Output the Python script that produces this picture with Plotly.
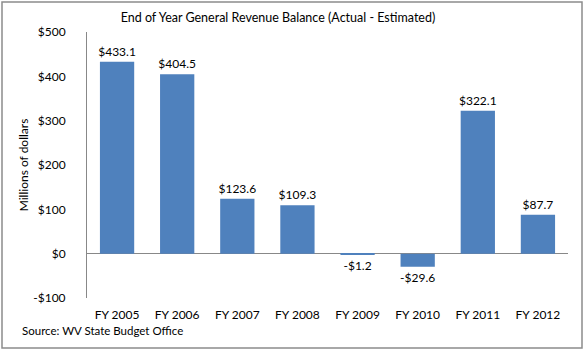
import plotly.graph_objects as go

categories = ["FY 2005", "FY 2006", "FY 2007", "FY 2008", "FY 2009", "FY 2010", "FY 2011", "FY 2012"]
values = [433.1, 404.5, 123.6, 109.3, -1.2, -29.6, 322.1, 87.7]
tick_vals = [-100, 0, 100, 200, 300, 400, 500]

def money(v, d=1):
    s = f"${abs(v):,.{d}f}"
    return "-" + s if v < 0 else s

W, H = 584, 350
L, R, T, B = 87, 16, 32, 52
pw, ph = W - L - R, H - T - B
FONT = "Lato, Carlito, sans-serif"

fig = go.Figure(go.Bar(
    x=categories, y=values,
    marker=dict(color="#4F81BD", line=dict(width=0)),
    text=[money(v) for v in values],
    textposition="outside",
    constraintext="none",
    textfont=dict(family=FONT, size=12, color="#000000"),
    cliponaxis=False,
))

fig.update_layout(
    width=W, height=H,
    margin=dict(l=L, r=R, t=T, b=B),
    paper_bgcolor="white", plot_bgcolor="white",
    bargap=0.43,
    showlegend=False,
    uniformtext=dict(minsize=12, mode="show"),
    font=dict(family=FONT, size=12, color="#000000"),
    title=dict(text="End of Year General Revenue Balance (Actual - Estimated)",
               x=278 / W, xanchor="center", y=1 - 18 / H, yanchor="middle",
               font=dict(size=12.5)),
    xaxis=dict(showline=False, showgrid=False, ticks="", tickfont=dict(size=12),
               ticklabelstandoff=8),
    yaxis=dict(range=[-100, 500], tickvals=tick_vals, ticktext=[money(v, 0) for v in tick_vals],
               showgrid=False, showline=True, linecolor="#888888", linewidth=1,
               zeroline=True, zerolinecolor="#888888", zerolinewidth=1,
               ticks="", ticklen=0, tickfont=dict(size=12), ticklabelstandoff=18,
               title=dict(text="Millions of dollars", font=dict(size=12), standoff=2)),
    annotations=[dict(text="Source: WV State Budget Office", xref="paper", yref="paper",
                      x=(20 - L) / pw, y=-(330 - T - ph) / ph, xanchor="left", yanchor="middle",
                      showarrow=False, font=dict(size=11.5))],
    shapes=[dict(type="rect", xref="paper", yref="paper",
                 x0=(2 - L) / pw, x1=(582 - L) / pw,
                 y0=-(348 - T - ph) / ph,
                 y1=1 + (T - 2) / ph,
                 line=dict(color="#8c8c8c", width=1.5), fillcolor="rgba(0,0,0,0)", layer="below")],
)

fig.write_html("out.html")
